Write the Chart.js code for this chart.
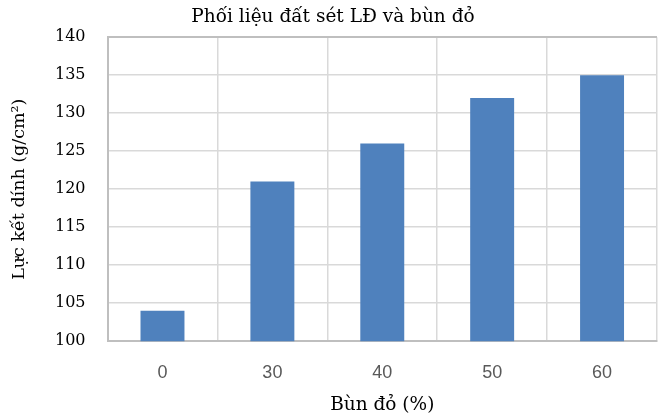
<!DOCTYPE html>
<html>
<head>
<meta charset="utf-8">
<script src="https://cdn.jsdelivr.net/npm/chart.js@4.4.0/dist/chart.umd.min.js"></script>
<style>
  html, body { margin: 0; padding: 0; background: #fff; }
  #wrap { width: 658px; height: 418px; position: relative; }
</style>
</head>
<body>
<div id="wrap"><canvas id="bunChart"></canvas></div>
<script>
// data
const categories = ['0', '30', '40', '50', '60'];
const adhesion = [104, 121, 126, 132, 135];
const yTicks = [100, 105, 110, 115, 120, 125, 130, 135, 140];

const serif = "'DejaVu Serif', 'Liberation Serif', serif";
const sans = "'Liberation Sans', Arial, sans-serif";

document.addEventListener('DOMContentLoaded', function() {
    const ctx = document.getElementById('bunChart').getContext('2d');

    new Chart(ctx, {
        type: 'bar',
        data: {
            labels: categories,
            datasets: [{
                label: 'Lực kết dính',
                data: adhesion,
                backgroundColor: '#4f81bd',
                borderWidth: 0,
                barPercentage: 0.4,
                categoryPercentage: 1.0
            }]
        },
        options: {
            responsive: true,
            maintainAspectRatio: false,
            animation: false,
            layout: { padding: { left: 9, right: 1, top: 6, bottom: 2 } },
            plugins: {
                legend: { display: false },
                tooltip: { enabled: false },
                title: {
                    display: true,
                    text: 'Phối liệu đất sét LĐ và bùn đỏ',
                    color: '#000',
                    font: { family: serif, size: 18.5, weight: 'normal' },
                    padding: { top: 0, bottom: 9 }
                }
            },
            scales: {
                x: {
                    grid: {
                        color: '#d9d9d9',
                        lineWidth: 1.5,
                        drawTicks: false
                    },
                    border: { color: '#bfbfbf', width: 2 },
                    ticks: {
                        color: '#595959',
                        font: { family: sans, size: 18 },
                        padding: 21
                    },
                    title: {
                        display: true,
                        text: 'Bùn đỏ (%)',
                        color: '#000',
                        font: { family: serif, size: 18.5 },
                        // chart.js counts tick padding twice when sizing the axis
                        padding: { top: -11, bottom: 0 }
                    }
                },
                y: {
                    min: 100,
                    max: 140,
                    afterBuildTicks: function(axis) {
                        axis.ticks = yTicks.map(v => ({ value: v }));
                    },
                    grid: {
                        color: c => (c.tick && c.tick.value === 140) ? '#bfbfbf' : '#d9d9d9',
                        lineWidth: c => (c.tick && c.tick.value === 140) ? 2 : 1.5,
                        drawTicks: false
                    },
                    border: { color: '#bfbfbf', width: 2 },
                    ticks: {
                        color: '#000',
                        font: { family: serif, size: 16 },
                        padding: 22
                    },
                    title: {
                        display: true,
                        text: 'Lực kết dính (g/cm²)',
                        color: '#000',
                        font: { family: serif, size: 17.5 },
                        padding: { top: 0, bottom: 3 }
                    }
                }
            }
        }
    });
});
</script>
</body>
</html>
